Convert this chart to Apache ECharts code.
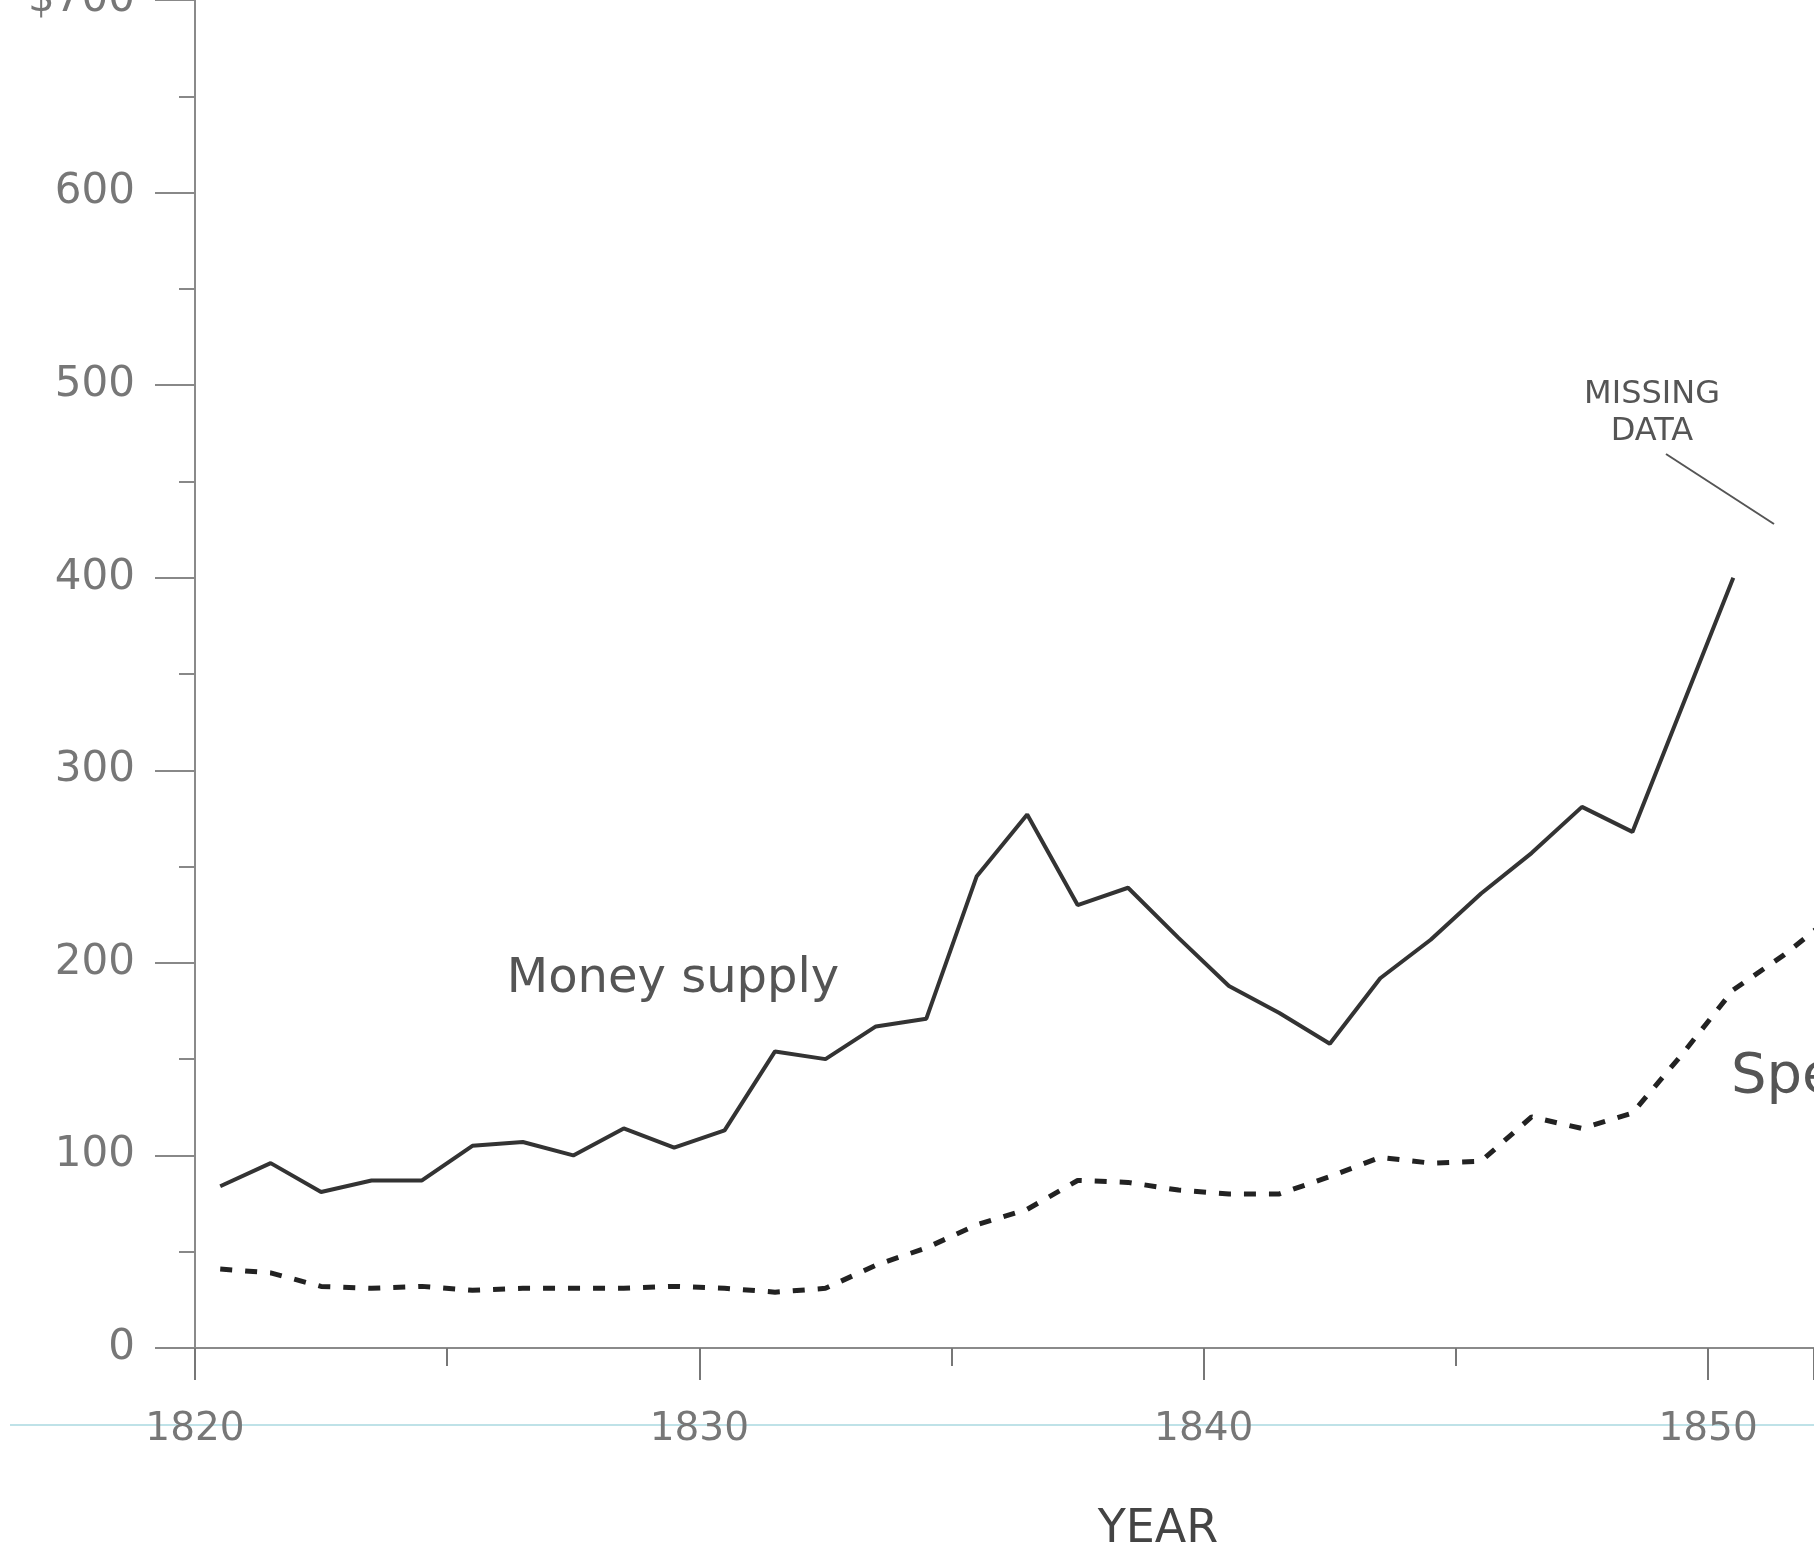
<!DOCTYPE html>
<html>
<head>
<meta charset="utf-8">
<script src="https://cdn.jsdelivr.net/npm/echarts@6/dist/echarts.min.js"></script>
<style>
html,body{margin:0;padding:0;background:#fff;}
#c{width:1814px;height:1556px;}
</style>
</head>
<body>
<div id="c"></div>
<script>
// Years (data plotted at mid-year)
const years = [1820,1821,1822,1823,1824,1825,1826,1827,1828,1829,1830,1831,1832,1833,1834,1835,1836,1837,1838,1839,1840,1841,1842,1843,1844,1845,1846,1847,1848,1849,1850,1851,1852];
// Money supply, millions of dollars (missing after 1850)
const moneySupply = [84,96,81,87,87,105,107,100,114,104,113,154,150,167,171,245,277,230,239,213,188,174,158,192,212,236,257,281,268,334,400,null,null];
// Specie, millions of dollars
const specie = [41,39,32,31,32,30,31,31,31,32,31,29,31,43,52,64,72,87,86,82,80,80,89,99,96,97,120,114,122,153,186,204,225];
const yTickLabels = {0:'0',100:'100',200:'200',300:'300',400:'400',500:'500',600:'600',700:'$700'};

const FONT = 'DejaVu Sans';
const chart = echarts.init(document.getElementById('c'), null, {renderer:'canvas'});

const toPairs = (vals) => years.map((y,i) => [y + 0.5, vals[i]]);

chart.setOption({
  backgroundColor:'#ffffff',
  animation:false,
  grid:{left:195, right:0, top:0, bottom:208, containLabel:false, outerBoundsMode:'none'},
  xAxis:{
    type:'value', min:1820, max:1852.1, interval:10,
    axisLine:{show:true, onZero:false, lineStyle:{color:'#8a8a8a', width:2}},
    axisTick:{show:true, length:32, lineStyle:{color:'#777', width:2}},
    minorTick:{show:true, splitNumber:2, length:18, lineStyle:{color:'#777', width:2}},
    splitLine:{show:false},
    axisLabel:{margin:62, color:'#777', fontFamily:FONT, fontSize:39,
      formatter:(v)=> (v%10===0 ? String(v) : ''), showMaxLabel:false}
  },
  yAxis:{
    type:'value', min:0, max:700, interval:100,
    axisLine:{show:true, lineStyle:{color:'#8a8a8a', width:2}},
    axisTick:{show:true, length:40, lineStyle:{color:'#888', width:2}},
    minorTick:{show:true, splitNumber:2, length:16, lineStyle:{color:'#888', width:2}},
    splitLine:{show:false},
    axisLabel:{margin:60, color:'#777', fontFamily:FONT, fontSize:42,
      formatter:(v)=> yTickLabels[v] !== undefined ? yTickLabels[v] : ''}
  },
  series:[
    {
      name:'Money supply', type:'line', data:toPairs(moneySupply),
      showSymbol:false, connectNulls:false,
      lineStyle:{color:'#333', width:4},
      z:3
    },
    {
      name:'Specie', type:'line', data:toPairs(specie),
      showSymbol:false,
      lineStyle:{color:'#222', width:5, type:[12,13]},
      z:3
    }
  ],
  graphic:[
    {type:'line', shape:{x1:10, y1:1425, x2:1814, y2:1425}, style:{stroke:'#bfe2e8', lineWidth:2}, z:0},
    {type:'text', x:673, y:980, style:{text:'Money supply', font:'48px "DejaVu Sans"', fill:'#555', align:'center', verticalAlign:'middle'}},
    {type:'text', x:1731, y:1077, style:{text:'Specie', font:'56px "DejaVu Sans"', fill:'#555', align:'left', verticalAlign:'middle'}},
    {type:'text', x:1652, y:395, style:{text:'MISSING', font:'32px "DejaVu Sans"', fill:'#555', align:'center', verticalAlign:'middle'}},
    {type:'text', x:1652, y:432, style:{text:'DATA', font:'32px "DejaVu Sans"', fill:'#555', align:'center', verticalAlign:'middle'}},
    {type:'line', shape:{x1:1666, y1:454, x2:1774, y2:524}, style:{stroke:'#555', lineWidth:2}},
    {type:'text', x:1158, y:1530, style:{text:'YEAR', font:'46px "DejaVu Sans"', fill:'#444', align:'center', verticalAlign:'middle'}}
  ]
});
</script>
</body>
</html>
